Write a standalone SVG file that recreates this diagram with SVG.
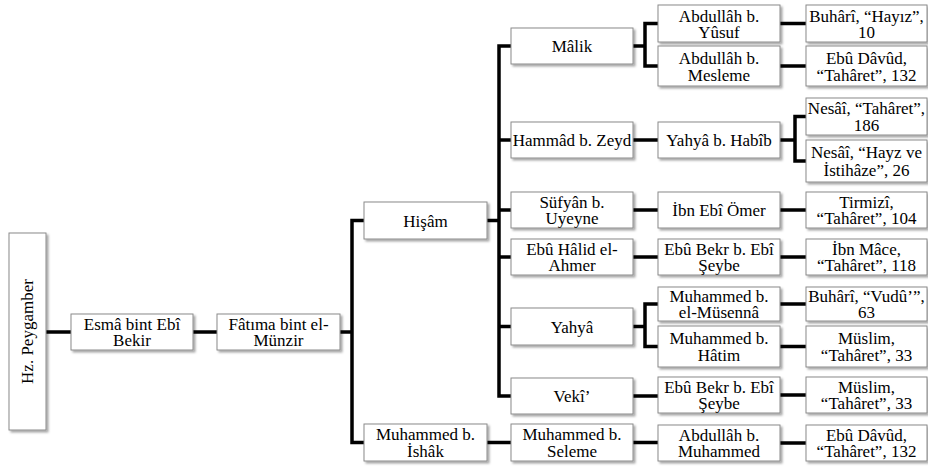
<svg xmlns="http://www.w3.org/2000/svg" width="928" height="468" viewBox="0 0 928 468">
<defs>
<filter id="sh" x="-10%" y="-10%" width="130%" height="140%">
<feDropShadow dx="2" dy="2" stdDeviation="1.2" flood-color="#000" flood-opacity="0.35"/>
</filter>
<style>
.box{fill:#fff;stroke:#8a8a8a;stroke-width:1;filter:url(#sh)}
text{font-family:"Liberation Serif","Times New Roman",serif;font-size:17px;fill:#000;text-anchor:middle}
.c{fill:none;stroke:#000;stroke-width:3.5;stroke-linejoin:miter;stroke-linecap:butt}
</style>
</defs>
<rect width="928" height="468" fill="#fff"/>
<g id="connectors" class="c">
<path d="M46 332H71"/>
<path d="M193 332H217"/>
<path d="M340 332H352"/>
<path d="M364 220.5H352V442.5H364"/>
<path d="M487 220.5H499"/>
<path d="M511 46H499V396H511"/>
<path d="M499 140H511M499 210H511M499 257H511M499 326.5H511"/>
<path d="M487 442.5H511"/>
<path d="M633 46H645"/>
<path d="M658 23.5H645V66H658"/>
<path d="M633 140H658M633 210H658M633 257H658M633 396H658M633 442.5H658"/>
<path d="M633 326.5H645"/>
<path d="M658 304H645V346.5H658"/>
<path d="M780 23.5H806M780 66H806M780 210H806M780 257H806M780 304H806M780 346.5H806M780 395H806M780 443H806"/>
<path d="M780 140H795"/>
<path d="M806 116.5H795V161H806"/>
</g>
<g id="n-hz">
<rect class="box" x="9" y="233" width="37" height="197"/>
<text transform="translate(33,331.5) rotate(-90)">Hz. Peygamber</text>
</g>
<g id="n-esma">
<rect class="box" x="71" y="314" width="122" height="36"/>
<text x="132" y="330">Esmâ bint Ebî</text><text x="132" y="346">Bekir</text>
</g>
<g id="n-fatima">
<rect class="box" x="217" y="314" width="123" height="36"/>
<text x="278.5" y="330">Fâtıma bint el-</text><text x="278.5" y="346">Münzir</text>
</g>
<g id="n-hisam">
<rect class="box" x="364" y="202" width="123" height="37"/>
<text x="425.5" y="226.5">Hişâm</text>
</g>
<g id="n-ishak">
<rect class="box" x="364" y="424" width="123" height="37"/>
<text x="425.5" y="440">Muhammed b.</text><text x="425.5" y="457">İshâk</text>
</g>
<g id="n-malik">
<rect class="box" x="511" y="28" width="122" height="36"/>
<text x="572" y="52">Mâlik</text>
</g>
<g id="n-hammad">
<rect class="box" x="511" y="122" width="122" height="36"/>
<text x="572" y="146">Hammâd b. Zeyd</text>
</g>
<g id="n-sufyan">
<rect class="box" x="511" y="192" width="122" height="36"/>
<text x="572" y="208">Süfyân b.</text><text x="572" y="224">Uyeyne</text>
</g>
<g id="n-ebuhalid">
<rect class="box" x="511" y="239" width="122" height="36"/>
<text x="572" y="255">Ebû Hâlid el-</text><text x="572" y="271">Ahmer</text>
</g>
<g id="n-yahya">
<rect class="box" x="511" y="308" width="122" height="37"/>
<text x="572" y="332.5">Yahyâ</text>
</g>
<g id="n-veki">
<rect class="box" x="511" y="378" width="122" height="36"/>
<text x="572" y="402">Vekî’</text>
</g>
<g id="n-seleme">
<rect class="box" x="511" y="424" width="122" height="37"/>
<text x="572" y="440">Muhammed b.</text><text x="572" y="457">Seleme</text>
</g>
<g id="n-yusuf">
<rect class="box" x="658" y="5" width="122" height="37"/>
<text x="719" y="21.5">Abdullâh  b.</text><text x="719" y="38">Yûsuf</text>
</g>
<g id="n-mesleme">
<rect class="box" x="658" y="46" width="122" height="40"/>
<text x="719" y="64">Abdullâh  b.</text><text x="719" y="81">Mesleme</text>
</g>
<g id="n-habib">
<rect class="box" x="658" y="122" width="122" height="36"/>
<text x="719" y="146">Yahyâ b. Habîb</text>
</g>
<g id="n-ibnebiomer">
<rect class="box" x="658" y="192" width="122" height="36"/>
<text x="719" y="216">İbn Ebî Ömer</text>
</g>
<g id="n-ebubekr1">
<rect class="box" x="658" y="239" width="122" height="36"/>
<text x="719" y="255">Ebû Bekr b. Ebî</text><text x="719" y="271">Şeybe</text>
</g>
<g id="n-musenna">
<rect class="box" x="658" y="287" width="122" height="34"/>
<text x="719" y="302">Muhammed b.</text><text x="719" y="318">el-Müsennâ</text>
</g>
<g id="n-hatim">
<rect class="box" x="658" y="326" width="122" height="41"/>
<text x="719" y="344">Muhammed b.</text><text x="719" y="361">Hâtim</text>
</g>
<g id="n-ebubekr2">
<rect class="box" x="658" y="377" width="122" height="36"/>
<text x="719" y="393">Ebû Bekr b. Ebî</text><text x="719" y="409">Şeybe</text>
</g>
<g id="n-abdmuh">
<rect class="box" x="658" y="425" width="122" height="36"/>
<text x="719" y="441">Abdullâh  b.</text><text x="719" y="457">Muhammed</text>
</g>
<g id="s-buhari1">
<rect class="box" x="806" y="5" width="121" height="37"/>
<text x="866.5" y="21.5">Buhârî, “Hayız”,</text><text x="866.5" y="38">10</text>
</g>
<g id="s-ebudavud1">
<rect class="box" x="806" y="46" width="121" height="40"/>
<text x="866.5" y="64">Ebû Dâvûd,</text><text x="866.5" y="81">“Tahâret”, 132</text>
</g>
<g id="s-nesai1">
<rect class="box" x="806" y="98" width="121" height="37"/>
<text x="866.5" y="114">Nesâî, “Tahâret”,</text><text x="866.5" y="131">186</text>
</g>
<g id="s-nesai2">
<rect class="box" x="806" y="140" width="121" height="42"/>
<text x="866.5" y="158">Nesâî, “Hayz ve</text><text x="866.5" y="176">İstihâze”, 26</text>
</g>
<g id="s-tirmizi">
<rect class="box" x="806" y="192" width="121" height="36"/>
<text x="866.5" y="208">Tirmizî,</text><text x="866.5" y="224">“Tahâret”, 104</text>
</g>
<g id="s-ibnmace">
<rect class="box" x="806" y="239" width="121" height="36"/>
<text x="866.5" y="255">İbn Mâce,</text><text x="866.5" y="271">“Tahâret”, 118</text>
</g>
<g id="s-buhari2">
<rect class="box" x="806" y="287" width="121" height="34"/>
<text x="866.5" y="302">Buhârî, “Vudû’”,</text><text x="866.5" y="318">63</text>
</g>
<g id="s-muslim1">
<rect class="box" x="806" y="326" width="121" height="41"/>
<text x="866.5" y="344">Müslim,</text><text x="866.5" y="361">“Tahâret”, 33</text>
</g>
<g id="s-muslim2">
<rect class="box" x="806" y="377" width="121" height="36"/>
<text x="866.5" y="393">Müslim,</text><text x="866.5" y="409">“Tahâret”, 33</text>
</g>
<g id="s-ebudavud2">
<rect class="box" x="806" y="425" width="121" height="36"/>
<text x="866.5" y="441">Ebû Dâvûd,</text><text x="866.5" y="457">“Tahâret”, 132</text>
</g>
</svg>
